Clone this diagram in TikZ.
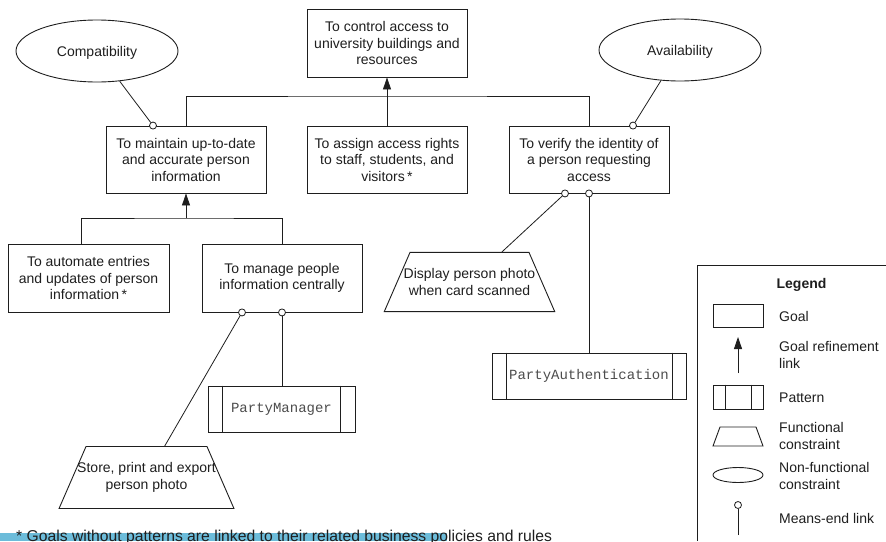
\documentclass[tikz,border=0pt]{standalone}
\usepackage{fontspec}
\setmainfont{Liberation Sans}
\setmonofont{Liberation Mono}
\usetikzlibrary{arrows.meta,shapes.geometric}
\definecolor{ink}{HTML}{1E1E1E}
\definecolor{hilite}{RGB}{108,188,218}
% a text line centred on the top side of a trapezium, free to run over its slants
\newcommand\trapline[2]{\makebox[#1][c]{#2}}
\begin{document}
\begin{tikzpicture}[x=1pt,y=-1pt,
  every node/.style={font=\fontsize{14}{16.5}\selectfont, text=ink},
  goal/.style={draw=ink, line width=0.9pt, rectangle, inner sep=0pt, align=center,
    minimum width=160pt, minimum height=68pt},
  softgoal/.style={draw=ink, line width=0.9pt, ellipse, inner sep=0pt, text depth=0pt,
    minimum width=162pt, minimum height=62pt},
  fconstr/.style={draw=ink, line width=0.9pt, trapezium, trapezium left angle=66.5,
    trapezium right angle=66.5, inner xsep=0pt, inner ysep=16.2pt, align=center},
  patternbox/.style={draw=ink, line width=0.9pt, rectangle, inner sep=0pt,
    minimum height=46pt, font=\fontsize{14}{16}\ttfamily, text=black!70},
  meend/.style={draw=ink, line width=0.8pt, circle, fill=white, inner sep=0pt, minimum size=7pt},
  link/.style={draw=ink, line width=0.8pt},
  refine/.style={link, -{Triangle[length=12pt,width=8pt]}},
  legendtext/.style={anchor=west, align=left, inner sep=0pt},
]
\useasboundingbox (0,0) rectangle (886,541);

% ---- goals ----
\node[goal] (top) at (387,43) {To control access to\\university buildings and\\resources};
\node[goal, minimum height=67pt] (maint) at (186,159.5) {To maintain up-to-date\\and accurate person\\information};
\node[goal, minimum height=67pt] (assign) at (387,159.5) {To assign access rights\\to staff, students, and\\visitors\,*};
\node[goal, minimum height=67pt] (verify) at (589,159.5) {To verify the identity of\\a person requesting\\access};
\node[goal, minimum width=161pt] (automate) at (88.5,278) {To automate entries\\and updates of person\\information\,*};
\node[goal] (manage) at (282,278) {To manage people\\information centrally};

% ---- non-functional constraints ----
\node[softgoal] (compat) at (97,51) {Compatibility};
\node[softgoal] (avail) at (680,50) {Availability};

% ---- functional constraints ----
\node[fconstr] (disp) at (469.5,282)
  {\trapline{119pt}{Display person photo}\\\trapline{119pt}{when card scanned}};
\node[fconstr] (store) at (146.5,477.5)
  {\trapline{121pt}{Store, print and export}\\\trapline{121pt}{person photo}};

% ---- patterns ----
\node[patternbox, minimum width=194pt] (pauth) at (589,376) {PartyAuthentication};
\draw[link] ([xshift=15pt]pauth.north west) -- ([xshift=15pt]pauth.south west)
            ([xshift=-14pt]pauth.north east) -- ([xshift=-14pt]pauth.south east);
\node[patternbox, minimum width=147pt] (pman) at (281.5,409) {PartyManager};
\draw[link] ([xshift=15pt]pman.north west) -- ([xshift=15pt]pman.south west)
            ([xshift=-15pt]pman.north east) -- ([xshift=-15pt]pman.south east);

% ---- goal refinement links ----
\coordinate (j1) at (387,96);
\draw[link] (maint.north) |- (j1) -| (verify.north);
\draw[refine] (assign.north) -- (top.south);
\coordinate (j2) at (186,218);
\draw[link] ([xshift=-7.5pt]automate.north) |- (j2) -| (manage.north);
\draw[refine] (j2) -- (maint.south);

% ---- means-end links ----
\node[meend] (c1) at ([xshift=-33pt]maint.north) {};
\node[meend] (c2) at ([xshift=44pt]verify.north) {};
\node[meend] (c3) at ([xshift=-24pt]verify.south) {};
\node[meend] (c4) at (verify.south) {};
\node[meend] (c5) at ([xshift=-40pt]manage.south) {};
\node[meend] (c6) at (manage.south) {};
\draw[link] (compat) -- (c1);
\draw[link] (avail) -- (c2);
\draw[link] (disp) -- (c3);
\draw[link] (pauth.north) -- (c4);
\draw[link] (store) -- (c5);
\draw[link] (pman.north -| c6) -- (c6);

% ---- legend ----
\draw[link] (886,265) -- (697,265) -- (697,541);
\node[font=\fontsize{14}{16.5}\selectfont\bfseries] (lhead) at (801.5,285) {Legend};
\node[draw=ink, line width=0.9pt, rectangle, minimum width=50pt, minimum height=23pt] (lgoal) at (738,315.5) {};
\node[legendtext] (lgoaltxt) at (779,316) {Goal};
\coordinate (lra) at (738,373);
\coordinate (lrb) at (738,337);
\draw[refine] (lra) -- (lrb);
\node[legendtext] (lreftxt) at (779,355) {Goal refinement\\link};
\node[draw=ink, line width=0.9pt, rectangle, minimum width=50pt, minimum height=24pt] (lpat) at (738,397) {};
\draw[link] ([xshift=13pt]lpat.north west) -- ([xshift=13pt]lpat.south west)
            ([xshift=-12pt]lpat.north east) -- ([xshift=-12pt]lpat.south east);
\node[legendtext] (lpattxt) at (779,398) {Pattern};
\draw[ink, line width=0.9pt] (713,446) -- (720,427) -- (756,427) -- (763,446) -- cycle;
\node[legendtext] (lfctxt) at (779,436) {Functional\\constraint};
\node[softgoal, minimum width=50pt, minimum height=15pt] (lnf) at (738,475) {};
\node[legendtext] (lnftxt) at (779,476) {Non-functional\\constraint};
\node[meend] (lme) at (738,505) {};
\coordinate (lmeb) at (738,535);
\draw[link] (lmeb) -- (lme);
\node[legendtext] (lmetxt) at (779,518) {Means-end link};

% ---- footnote ----
\fill[hilite] (0,533) rectangle (447,541);
\node[anchor=base west, inner sep=0pt, font=\fontsize{15.7}{18}\selectfont] (note) at (16,541)
  {* Goals without patterns are linked to their related business policies and rules};
\end{tikzpicture}
\end{document}
